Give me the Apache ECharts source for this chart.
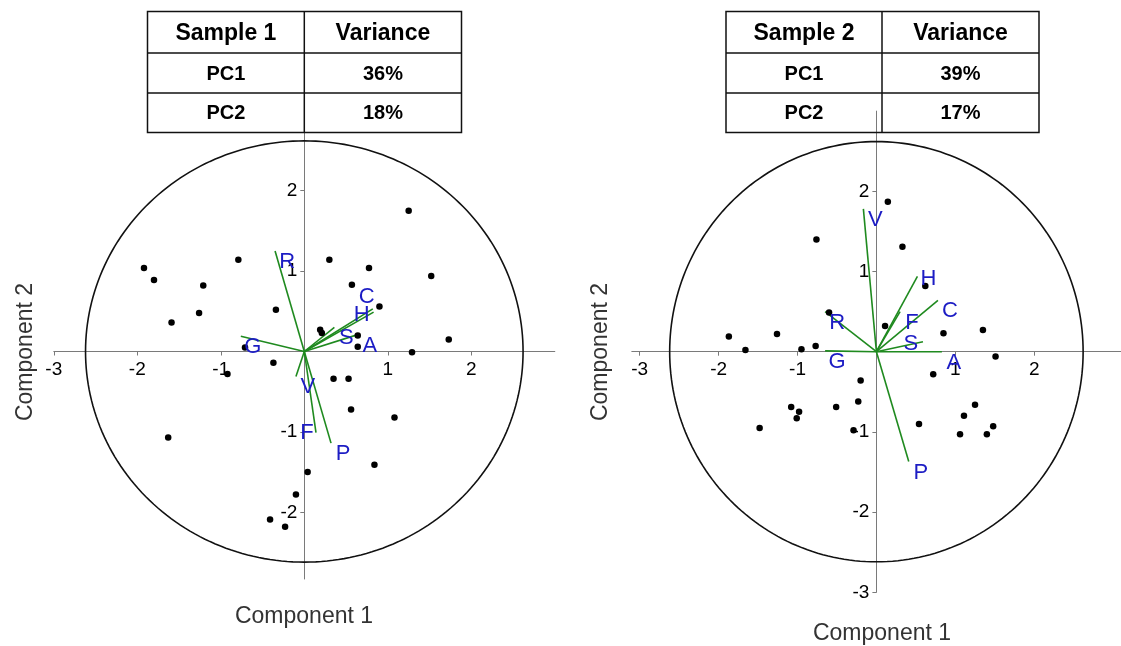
<!DOCTYPE html>
<html><head><meta charset="utf-8">
<script src="https://cdn.jsdelivr.net/npm/echarts@6/dist/echarts.min.js"></script>
<style>html,body{margin:0;padding:0;background:#fff}#chart{width:1121px;height:646px}</style>
</head><body><div id="chart"></div>
<script>
// ---------- data ----------
const xTickValues1 = [-3, -2, -1, 1, 2];
const yTickValues1 = [-2, -1, 1, 2];
const xTickValues2 = [-3, -2, -1, 1, 2];
const yTickValues2 = [-3, -2, -1, 1, 2];

const tableHeader1 = ['Sample 1', 'Variance'];
const tableHeader2 = ['Sample 2', 'Variance'];
const pcNames = ['PC1', 'PC2'];
const variance1 = ['36%', '18%'];
const variance2 = ['39%', '17%'];

const circleRadius1 = 2.62;
const circleRadius2 = 2.62;

const scoreX1 = [1.25, -0.79, 0.30, 0.775, -1.92, -1.80, -1.21, 1.52, 0.57, -0.34, -1.26, -1.59, 0.90, 0.19, 0.21, 0.64, 0.64, 1.73, 1.29, -0.71, -0.37, -0.92, 0.35, 0.53, -1.63, 0.56, 1.08, 0.84, 0.04, -0.10, -0.41, -0.23];
const scoreY1 = [1.75, 1.14, 1.14, 1.04, 1.04, 0.89, 0.82, 0.94, 0.83, 0.52, 0.48, 0.36, 0.56, 0.27, 0.23, 0.20, 0.06, 0.15, -0.01, 0.05, -0.14, -0.28, -0.34, -0.34, -1.07, -0.72, -0.82, -1.41, -1.50, -1.78, -2.09, -2.18];

const loadingNames1 = ['R', 'G', 'C', 'H', 'S', 'A', 'V', 'F', 'P'];
const loadingX1 = [-0.35, -0.76, 0.82, 0.83, 0.36, 0.64, -0.10, 0.14, 0.32];
const loadingY1 = [1.25, 0.19, 0.53, 0.49, 0.30, 0.21, -0.31, -1.01, -1.14];

const scoreX2 = [0.145, -0.76, 0.33, 0.62, -0.60, 0.11, 0.85, 1.35, -1.87, -1.26, -1.66, -0.95, -0.77, 1.51, 0.72, -0.20, -0.23, -0.51, -1.08, -0.98, -1.01, -1.48, -0.29, 0.54, 1.25, 1.11, 1.06, 1.48, 1.40];
const scoreY2 = [1.87, 1.40, 1.31, 0.82, 0.49, 0.32, 0.23, 0.27, 0.19, 0.22, 0.02, 0.03, 0.07, -0.06, -0.28, -0.36, -0.62, -0.69, -0.69, -0.75, -0.83, -0.95, -0.98, -0.90, -0.66, -0.80, -1.03, -0.93, -1.03];

const loadingNames2 = ['V', 'H', 'C', 'F', 'R', 'S', 'G', 'A', 'P'];
const loadingX2 = [-0.165, 0.52, 0.78, 0.30, -0.65, 0.59, -0.65, 0.83, 0.41];
const loadingY2 = [1.78, 0.94, 0.64, 0.50, 0.50, 0.125, 0.01, 0.0, -1.37];

const axisName1 = 'Component 1';
const axisName2 = 'Component 2';

// ---------- styles ----------
const FONT = "'Liberation Sans', Arial, sans-serif";
const AXIS_COLOR = '#7a7a7a';
const GREEN = '#1f8a1f';
const BLUE = '#1c1cc4';
const defaultLabelOffset = [12, 11];
const labelOffset1 = { C: [-6, -12], H: [-12, 3], F: [-9, 0] };
const labelOffset2 = { H: [11, 3], S: [-12, 2] };

function zip(xs, ys) { return xs.map((x, i) => [x, ys[i]]); }

function makeXAxis(grid, min, max, ticks) {
  return {
    gridIndex: grid, type: 'value', min: min, max: max,
    axisLine: { onZero: true, lineStyle: { color: AXIS_COLOR, width: 1 } },
    axisTick: { show: true, length: 4, customValues: ticks, lineStyle: { color: AXIS_COLOR } },
    axisLabel: { show: false },
    splitLine: { show: false }
  };
}
function makeYAxis(grid, min, max, ticks) {
  return {
    gridIndex: grid, type: 'value', min: min, max: max,
    axisLine: { onZero: true, lineStyle: { color: AXIS_COLOR, width: 1 } },
    axisTick: { show: true, length: 4, customValues: ticks, lineStyle: { color: AXIS_COLOR } },
    axisLabel: { show: false },
    splitLine: { show: false }
  };
}
// tick labels placed on the zero-crossing axes through the library's scales
function tickLabelSeries(idx, xTicks, yTicks) {
  const tickLabel = { show: true, formatter: p => String(p.data.t), color: '#000', fontSize: 19, fontFamily: FONT, textBorderWidth: 0 };
  return [{
    type: 'scatter', xAxisIndex: idx, yAxisIndex: idx, silent: true, z: 2, symbolSize: 0,
    itemStyle: { opacity: 1 },
    data: xTicks.map(v => ({ value: [v, 0], t: v })),
    label: Object.assign({ position: 'bottom', distance: 9 }, tickLabel)
  }, {
    type: 'scatter', xAxisIndex: idx, yAxisIndex: idx, silent: true, z: 2, symbolSize: 0,
    itemStyle: { opacity: 1 },
    data: yTicks.map(v => ({ value: [0, v], t: v })),
    label: Object.assign({ position: 'left', distance: 7 }, tickLabel)
  }];
}

function circleSeries(idx, radius) {
  return {
    type: 'custom', xAxisIndex: idx, yAxisIndex: idx, silent: true, z: 1,
    data: [[0, 0, radius]],
    renderItem: function (params, api) {
      const r = api.value(2);
      const pts = [];
      for (let i = 0; i <= 240; i++) {
        const t = i / 240 * Math.PI * 2;
        pts.push(api.coord([r * Math.cos(t), r * Math.sin(t)]));
      }
      return { type: 'polyline', shape: { points: pts }, style: { stroke: '#111', fill: null, lineWidth: 1.6 } };
    }
  };
}
function loadingLineSeries(idx, xs, ys) {
  return {
    type: 'custom', xAxisIndex: idx, yAxisIndex: idx, silent: true, z: 3,
    data: zip(xs, ys),
    renderItem: function (params, api) {
      const p0 = api.coord([0, 0]);
      const p1 = api.coord([api.value(0), api.value(1)]);
      return { type: 'line', shape: { x1: p0[0], y1: p0[1], x2: p1[0], y2: p1[1] }, style: { stroke: GREEN, lineWidth: 1.6 } };
    }
  };
}
function loadingLabelSeries(idx, names, xs, ys, offsets) {
  return {
    type: 'scatter', xAxisIndex: idx, yAxisIndex: idx, silent: true, z: 5,
    symbolSize: 0, itemStyle: { opacity: 1 },
    data: names.map((n, i) => ({
      name: n, value: [xs[i], ys[i]],
      label: { offset: offsets[n] || defaultLabelOffset }
    })),
    label: { show: true, position: 'inside', formatter: '{b}', color: BLUE, fontSize: 22, fontFamily: FONT, textBorderWidth: 0, textBorderColor: 'transparent' }
  };
}
function scoreSeries(idx, xs, ys) {
  return {
    type: 'scatter', xAxisIndex: idx, yAxisIndex: idx, silent: true, z: 4,
    symbolSize: 6.5, itemStyle: { color: '#000', opacity: 1 },
    data: zip(xs, ys)
  };
}

function tableGraphics(left, divider, right, rowYs, header, names, values) {
  const els = [];
  const stroke = { stroke: '#111', lineWidth: 1.5 };
  els.push({ type: 'rect', shape: { x: left, y: rowYs[0], width: right - left, height: rowYs[rowYs.length - 1] - rowYs[0] }, style: Object.assign({ fill: null }, stroke), z: 10 });
  for (let i = 1; i < rowYs.length - 1; i++) {
    els.push({ type: 'line', shape: { x1: left, y1: rowYs[i], x2: right, y2: rowYs[i] }, style: stroke, z: 10 });
  }
  els.push({ type: 'line', shape: { x1: divider, y1: rowYs[0], x2: divider, y2: rowYs[rowYs.length - 1] }, style: stroke, z: 10 });
  const c1 = (left + divider) / 2, c2 = (divider + right) / 2;
  const cells = [[header[0], header[1], 23]].concat(names.map((n, i) => [n, values[i], 20]));
  cells.forEach((row, i) => {
    const cy = (rowYs[i] + rowYs[i + 1]) / 2 + 1;
    [[row[0], c1], [row[1], c2]].forEach(([txt, cx]) => {
      els.push({ type: 'text', x: cx, y: cy, z: 11,
        style: { text: txt, fill: '#000', font: 'bold ' + row[2] + 'px ' + FONT, align: 'center', verticalAlign: 'middle', textAlign: 'center', textVerticalAlign: 'middle' } });
    });
  });
  return els;
}
function axisTitle(text, x, y, rotate) {
  return { type: 'text', x: x, y: y, rotation: rotate ? Math.PI / 2 : 0, z: 10,
    style: { text: text, fill: '#333', font: '23px ' + FONT, align: 'center', verticalAlign: 'middle', textAlign: 'center', textVerticalAlign: 'middle' } };
}

const chart = echarts.init(document.getElementById('chart'), null, { renderer: 'canvas' });
const rowYs = [11.5, 53, 93, 132.5];
const option = {
  backgroundColor: '#fff',
  animation: false,
  grid: [
    { left: 53.8, top: 124, width: 501, height: 455 },
    { left: 631.8, top: 111.1, width: 500.3, height: 481.2 }
  ],
  xAxis: [makeXAxis(0, -3, 3, xTickValues1), makeXAxis(1, -3.1, 3.1, xTickValues2)],
  yAxis: [makeYAxis(0, -2.83, 2.83, yTickValues1), makeYAxis(1, -3, 3, yTickValues2)],
  series: [].concat(
    [circleSeries(0, circleRadius1)],
    tickLabelSeries(0, xTickValues1, yTickValues1),
    [loadingLineSeries(0, loadingX1, loadingY1),
     scoreSeries(0, scoreX1, scoreY1),
     loadingLabelSeries(0, loadingNames1, loadingX1, loadingY1, labelOffset1),
     circleSeries(1, circleRadius2)],
    tickLabelSeries(1, xTickValues2, yTickValues2),
    [loadingLineSeries(1, loadingX2, loadingY2),
     scoreSeries(1, scoreX2, scoreY2),
     loadingLabelSeries(1, loadingNames2, loadingX2, loadingY2, labelOffset2)]
  ),
  graphic: [].concat(
    tableGraphics(147.5, 304.3, 461.5, rowYs, tableHeader1, pcNames, variance1),
    tableGraphics(726, 882, 1039, rowYs, tableHeader2, pcNames, variance2),
    [
      axisTitle(axisName1, 304, 617, false),
      axisTitle(axisName1, 882, 634, false),
      axisTitle(axisName2, 26, 352, true),
      axisTitle(axisName2, 601, 352, true)
    ]
  )
};
chart.setOption(option);
</script>
</body></html>
